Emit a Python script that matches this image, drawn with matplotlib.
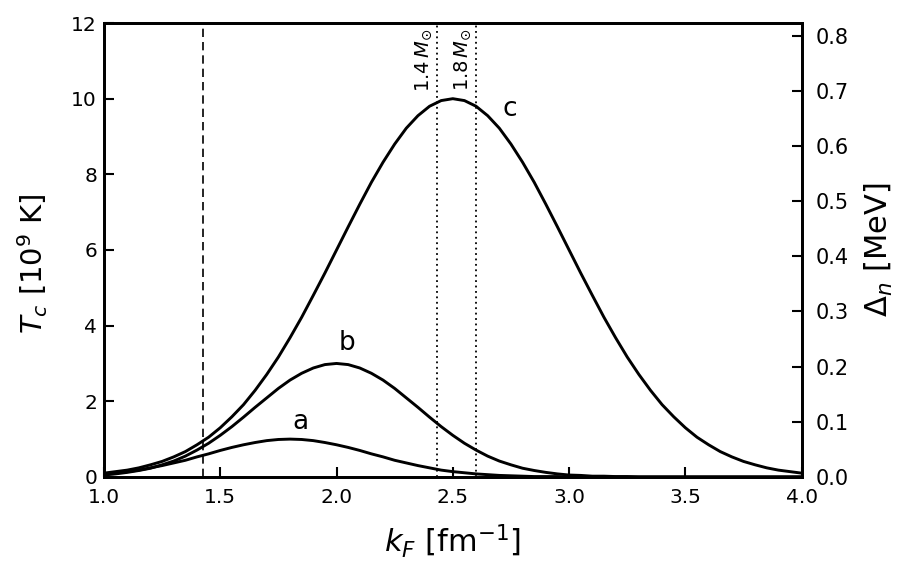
#!/usr/bin/env python3

import numpy as np
import matplotlib
matplotlib.use('Agg')
import matplotlib.pyplot as plt

# Fermi momentum grid [fm^-1]
kF = np.linspace(1.0, 4.0, 61)

# critical temperatures [10^9 K]
Tc_a = [0.08, 0.11, 0.14, 0.18, 0.24, 0.30, 0.37, 0.44, 0.53, 0.61,
	0.70, 0.78, 0.85, 0.91, 0.96, 0.99, 1.00, 0.99, 0.96, 0.91,
	0.85, 0.78, 0.70, 0.61, 0.53, 0.44, 0.37, 0.30, 0.24, 0.18,
	0.14, 0.11, 0.08, 0.06, 0.04, 0.03, 0.02, 0.01, 0.01, 0.01,
	0.00, 0.00, 0.00, 0.00, 0.00, 0.00, 0.00, 0.00, 0.00, 0.00,
	0.00, 0.00, 0.00, 0.00, 0.00, 0.00, 0.00, 0.00, 0.00, 0.00, 0.00]
Tc_b = [0.05, 0.08, 0.12, 0.17, 0.23, 0.32, 0.42, 0.55, 0.71, 0.89,
	1.10, 1.33, 1.58, 1.84, 2.09, 2.34, 2.56, 2.74, 2.88, 2.97,
	3.00, 2.97, 2.88, 2.74, 2.56, 2.34, 2.09, 1.84, 1.58, 1.33,
	1.10, 0.89, 0.71, 0.55, 0.42, 0.32, 0.23, 0.17, 0.12, 0.08,
	0.05, 0.04, 0.02, 0.02, 0.01, 0.01, 0.00, 0.00, 0.00, 0.00,
	0.00, 0.00, 0.00, 0.00, 0.00, 0.00, 0.00, 0.00, 0.00, 0.00, 0.00]
Tc_c = [0.10, 0.14, 0.18, 0.24, 0.32, 0.41, 0.53, 0.67, 0.85, 1.05,
	1.30, 1.59, 1.91, 2.29, 2.71, 3.17, 3.68, 4.22, 4.80, 5.39,
	6.00, 6.61, 7.21, 7.79, 8.32, 8.80, 9.22, 9.55, 9.80, 9.95,
	10.00, 9.95, 9.80, 9.55, 9.22, 8.80, 8.32, 7.79, 7.21, 6.61,
	6.00, 5.39, 4.80, 4.22, 3.68, 3.17, 2.71, 2.29, 1.91, 1.59,
	1.30, 1.05, 0.85, 0.67, 0.53, 0.41, 0.32, 0.24, 0.18, 0.14, 0.10]

curve_labels = ['a', 'b', 'c']
label_pos = [(1.843, 1.45), (2.044, 3.54), (2.745, 9.73)]

# marker lines
kF_dashed = 1.424
kF_stars = [2.43, 2.60]
star_labels = [r'$1.4\,M_{\odot}$', r'$1.8\,M_{\odot}$']

# gap conversion, MeV per 10^9 K
mev_per_T9 = 0.06855


def main():
	plt.rcParams['font.family'] = ['DejaVu Sans']
	plt.rcParams['mathtext.fontset'] = 'dejavusans'

	fig = plt.figure(figsize=(9.12, 5.76), dpi=100)
	ax = fig.add_axes([0.114, 0.172, 0.765, 0.788])

	for Tc in (Tc_a, Tc_b, Tc_c):
		ax.plot(kF, Tc, color='black', lw=2.1)

	for lab, (x, y) in zip(curve_labels, label_pos):
		ax.text(x, y, lab, fontsize=19, ha='center', va='center')

	ax.axvline(kF_dashed, color='black', lw=1.2, ls=(0, (5, 3)))
	for x, lab in zip(kF_stars, star_labels):
		ax.axvline(x, color='black', lw=1.3, ls=(0, (1, 2)))
		ax.text(x - 0.012, 11.85, lab, rotation=90, ha='right', va='top', fontsize=14)

	ax.set_xlim(1.0, 4.0)
	ax.set_ylim(0, 12)
	ax.set_xticks(np.arange(1.0, 4.01, 0.5))
	ax.set_yticks(np.arange(0, 13, 2))
	ax.set_xlabel(r'$k_F$ [fm$^{-1}$]', fontsize=22)
	ax.set_ylabel(r'$T_c$ [$10^9$ K]', fontsize=21)
	ax.xaxis.set_label_coords(0.5, -0.10)
	ax.yaxis.set_label_coords(-0.078, 0.47)
	ax.tick_params(direction='in', length=7, width=1.5, labelsize=14.5, top=False, right=False)
	ax.tick_params(axis='x', pad=8)
	ax.tick_params(axis='y', pad=5)
	for s in ax.spines.values():
		s.set_linewidth(2)

	ax2 = ax.twinx()
	ax2.set_ylim(0, 12 * mev_per_T9)
	ax2.set_yticks(np.arange(0, 0.81, 0.1))
	ax2.set_ylabel(r'$\Delta_n$ [MeV]', fontsize=22)
	ax2.yaxis.set_label_coords(1.088, 0.5)
	ax2.tick_params(direction='in', length=7, width=1.5, labelsize=15, pad=10)
	for s in ax2.spines.values():
		s.set_linewidth(2)

	fig.savefig('out.png', dpi=100)

if __name__ == "__main__":
	main()
